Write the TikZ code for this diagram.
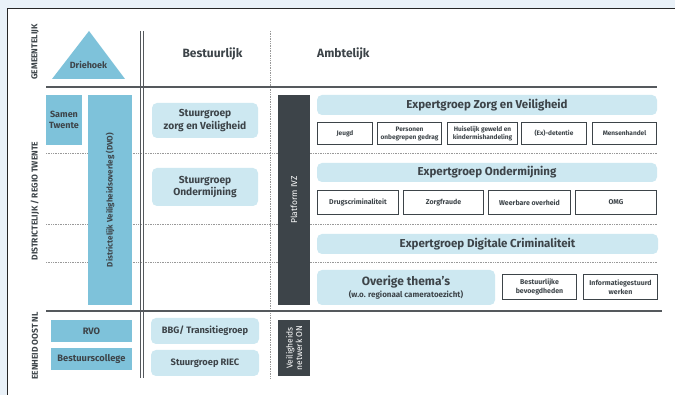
\documentclass[tikz,border=0pt]{standalone}
\usepackage{fontspec}
\setmainfont{Fira Sans}

\definecolor{fondo}{HTML}{E9F1F8}
\definecolor{oscuro}{HTML}{3D4449}
\definecolor{azulmedio}{HTML}{7EC2DA}
\definecolor{azulclaro}{HTML}{CDE8F1}
\definecolor{linea}{HTML}{55595D}

\tikzset{
  caja/.style={fill=azulmedio, text=oscuro, font=\bfseries\fontsize{9}{10.5}\selectfont, align=center, inner sep=1pt},
  grupo/.style={fill=azulclaro, rounded corners=5pt, text=oscuro, font=\bfseries\fontsize{10.2}{12.5}\selectfont, align=center, inner sep=1pt},
  experto/.style={grupo, font=\bfseries\fontsize{11.5}{13}\selectfont, minimum width=340, minimum height=20},
  tema/.style={draw=oscuro, line width=1.3pt, fill=white, text=oscuro, font=\bfseries\fontsize{6.5}{8}\selectfont, align=center, inner sep=1pt},
  plataforma/.style={fill=oscuro, text=white, font=\fontsize{8.5}{9.5}\selectfont, align=center, inner sep=1pt, rotate=90},
  nivel/.style={rotate=90, text=oscuro, font=\bfseries\fontsize{8.5}{9}\selectfont},
  guia/.style={gray!80, dash pattern=on 0.7pt off 1pt, line width=0.7pt},
}

\begin{document}
\begin{tikzpicture}[x=1pt, y=-1pt]

  % Fondo y marco
  \clip (0,0) rectangle (675,395);
  \fill[fondo] (0,0) rectangle (675,395);
  \draw[fill=white, draw=black!85, line width=1pt] (7,9) rectangle (700,420);

  % Líneas guía punteadas
  \foreach \y in {153,224,262}{
    \draw[guia] (46,\y) -- (657,\y);
  }
  \draw[guia] (270,31) -- (270,378);

  % Separadores de niveles
  \draw[linea, line width=1.6pt] (46,87) -- (657,87);
  \draw[linea, line width=1.6pt] (46,311) -- (662,311);
  \draw[linea, line width=0.8pt] (140.5,31) -- (140.5,378);
  \draw[linea, line width=0.8pt] (143.5,31) -- (143.5,378);

  % Etiquetas de nivel
  \node[nivel] (gem) at (35,52) {GEMEENTELIJK};
  \node[nivel] (dis) at (35,201) {DISTRICTELIJK / REGIO TWENTE};
  \node[nivel] (eon) at (35,346) {EENHEID OOST NL};

  % Cabeceras
  \node[text=oscuro, font=\bfseries\fontsize{12}{14}\selectfont] (bes) at (212.5,54) {Bestuurlijk};
  \node[text=oscuro, font=\bfseries\fontsize{12}{14}\selectfont, anchor=west, inner sep=0pt] (amb) at (317,54) {Ambtelijk};

  % Driehoek
  \fill[azulmedio] (52,79) -- (89,31) -- (125,79) -- cycle;
  \node[text=oscuro, font=\bfseries\fontsize{9}{10}\selectfont] (dri) at (88.5,65) {Driehoek};

  % Columna bestuurlijk
  \node[caja, minimum width=36, minimum height=50] (sam) at (64,120) {Samen\\Twente};
  \node[caja, rotate=90, font=\bfseries\fontsize{8}{9.5}\selectfont, minimum width=210, minimum height=44] (dvo) at (110,200) {Districtelijk Veiligheidsoverleg (DVO)};
  \node[grupo, minimum width=106, minimum height=35] (szv) at (205,120.5) {Stuurgroep\\zorg en Veiligheid};
  \node[grupo, minimum width=106, minimum height=38] (son) at (205,187) {Stuurgroep\\Ondermijning};

  \node[caja, font=\bfseries\fontsize{9.3}{10}\selectfont, minimum width=81, minimum height=22] (rvo) at (91.5,331) {RVO};
  \node[caja, font=\bfseries\fontsize{9.3}{10}\selectfont, minimum width=81, minimum height=22] (bsc) at (91.5,359) {Bestuurscollege};
  \node[grupo, font=\bfseries\fontsize{9.3}{10}\selectfont, minimum width=108, minimum height=26] (bbg) at (205,331) {BBG/ Transitiegroep};
  \node[grupo, font=\bfseries\fontsize{9.3}{10}\selectfont, minimum width=108, minimum height=26] (riec) at (205,363) {Stuurgroep RIEC};

  % Columna ambtelijk
  \node[plataforma, minimum width=210, minimum height=32] (ivz) at (294,200) {Platform IVZ};
  \node[plataforma, minimum width=56, minimum height=32] (von) at (294,348) {Veiligheids\\netwerk ON};

  \node[experto] (ezv) at (487,105) {Expertgroep Zorg en Veiligheid};
  \foreach \a/\b/\t/\n in {317/373/{Jeugd}/jeu, 377/442/{Personen\\onbegrepen gedrag}/per,
                           447/518/{Huiselijk geweld en\\kindermishandeling}/hui, 521/587/{(Ex)-detentie}/det,
                           592/657/{Mensenhandel}/men}{
    \node[tema, minimum width={\b-\a-1.3}, minimum height=22] (\n) at ({(\a+\b)/2},133.5) {\t};
  }

  \node[experto, minimum height=19] (eon) at (487,172.5) {Expertgroep Ondermijning};
  \foreach \a/\b/\t/\n in {317/399/{Drugscriminaliteit}/dru, 403/484/{Zorgfraude}/zor,
                           488/571/{Weerbare overheid}/wee, 575/657/{OMG}/omg}{
    \node[tema, font=\bfseries\fontsize{7}{8}\selectfont, minimum width={\b-\a-1.3}, minimum height=24] (\n) at ({(\a+\b)/2},202.5) {\t};
  }

  \node[experto, minimum width=341] (edc) at (487.5,244) {Expertgroep Digitale Criminaliteit};

  \node[grupo, minimum width=178, minimum height=35] (ove) at (406,287.5)
    {{\fontsize{12}{14}\selectfont Overige thema's}\\{\fontsize{8}{9.5}\selectfont (w.o. regionaal cameratoezicht)}};
  \node[tema, font=\bfseries\fontsize{7}{8.5}\selectfont, minimum width=74, minimum height=25] (bbe) at (539.5,287) {Bestuurlijke\\bevoegdheden};
  \node[tema, font=\bfseries\fontsize{7}{8.5}\selectfont, minimum width=74, minimum height=25] (igw) at (620.5,287) {Informatiegestuurd\\werken};

\end{tikzpicture}
\end{document}
